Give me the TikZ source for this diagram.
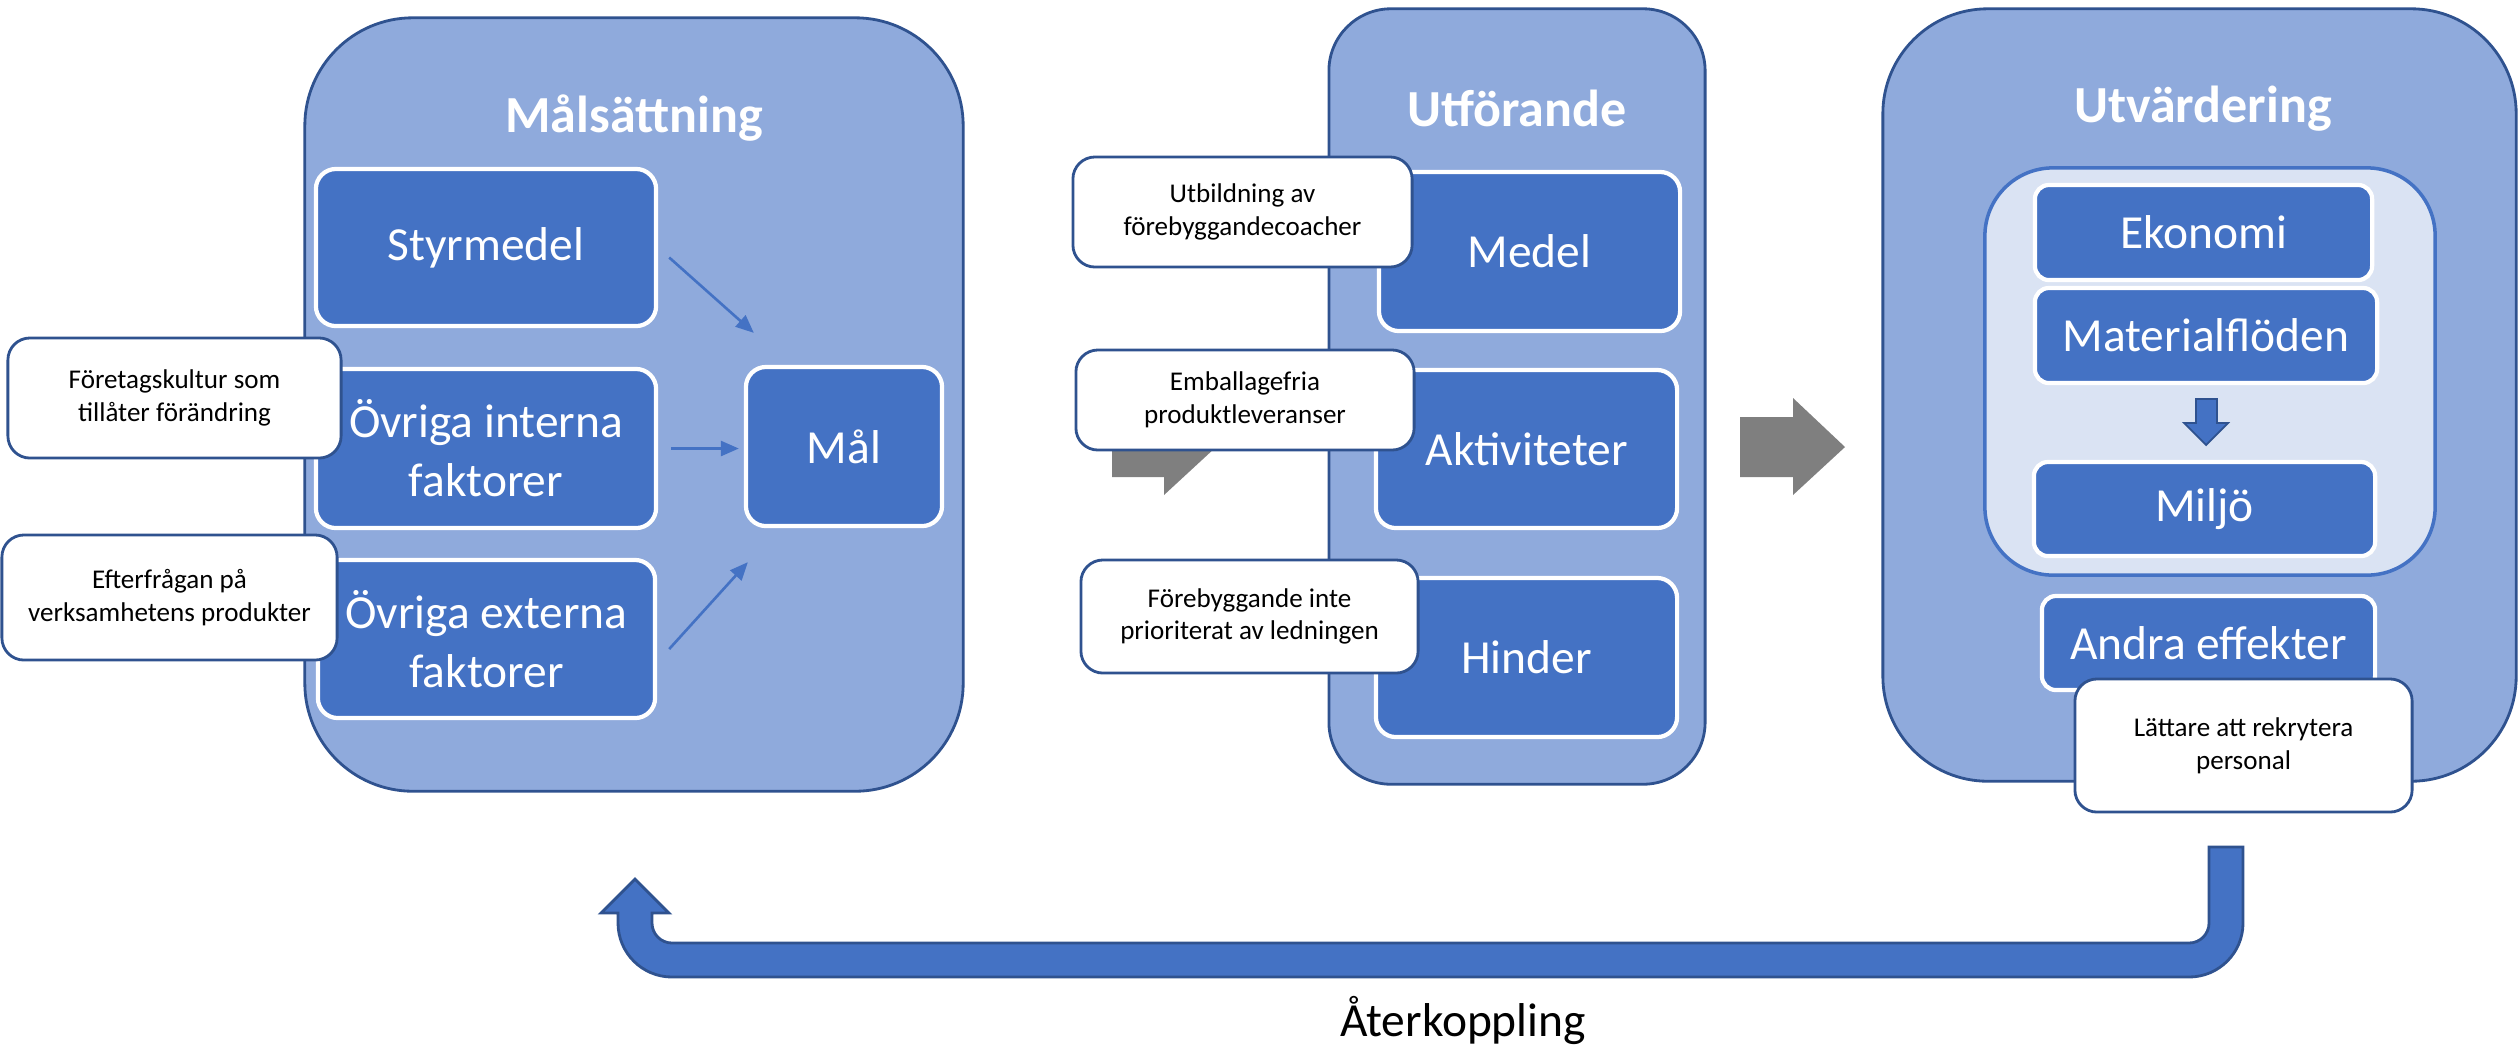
\documentclass[tikz,border=0pt]{standalone}
\usepackage{fontspec}
\setmainfont{Carlito}
\usepackage{tikz}
\usetikzlibrary{arrows.meta}

\definecolor{panelblue}{HTML}{8FAADC}
\definecolor{boxblue}{HTML}{4472C4}
\definecolor{edgeblue}{HTML}{2F528F}
\definecolor{paleblue}{HTML}{DAE3F3}
\definecolor{arrowgray}{HTML}{7F7F7F}

\newcommand{\boxfont}{\fontsize{13.5}{16.8}\selectfont}
\newcommand{\notefont}{\fontsize{7.7}{9.3}\selectfont}
\newcommand{\headfont}{\fontsize{14.8}{17}\selectfont\bfseries}

\begin{document}
\begin{tikzpicture}[x=0.01cm, y=-0.01cm,
		panel/.style={draw=edgeblue, fill=panelblue, line width=0.8pt},
		box/.style={draw=white, fill=boxblue, line width=1.2pt, rounded corners=0.2cm, text=white, font=\boxfont, align=center, inner sep=0pt},
		note/.style={draw=edgeblue, fill=white, line width=0.8pt, rounded corners=0.22cm, font=\notefont, align=center, inner sep=0pt},
		head/.style={text=white, font=\headfont},
		flow/.style={draw=boxblue, line width=0.75pt, -{Triangle[length=0.18cm, width=0.15cm]}}]
			\useasboundingbox (0,0) rectangle (2519,1047);
			% Maalsaettning
			\node[panel, rounded corners=1.08cm, minimum width=6.58cm, minimum height=7.73cm] (plan) at (634,404.5) {};
			\node[head] (planhead) at (634,118) {Målsättning};
			\node[box, minimum width=3.4cm, minimum height=1.57cm] (styr) at (486,247.5) {Styrmedel};
			\node[box, minimum width=3.4cm, minimum height=1.59cm] (intern) at (486,448.5) {Övriga interna\\faktorer};
			\node[box, minimum width=3.37cm, minimum height=1.58cm] (extern) at (486.5,639) {Övriga externa\\faktorer};
			\node[box, minimum width=1.96cm, minimum height=1.59cm] (mal) at (844,446.5) {Mål};
			\draw[flow] ([shift={(11,10)}]styr.east) -- ([shift={(10,-32)}]mal.north west);
			\draw[flow, shorten <=0.13cm, shorten >=0.05cm] (intern.east) -- (intern.east -| mal.west);
			\draw[flow] ([shift={(12,10)}]extern.east) -- ([shift={(4,34)}]mal.south west);
			\node[note, minimum width=3.33cm, minimum height=1.2cm] (kultur) at (174.5,398) {Företagskultur som\\tillåter förändring};
			\node[note, minimum width=3.35cm, minimum height=1.25cm] (efterfr) at (169.5,597.5) {Efterfrågan på\\verksamhetens produkter};
			% Utfoerande
			\node[panel, rounded corners=0.62cm, minimum width=3.76cm, minimum height=7.75cm] (exec) at (1517,396.5) {};
			\node[head] (exechead) at (1517,108) {Utförande};
			\node[box, minimum width=3.01cm, minimum height=1.59cm] (medel) at (1529.5,251.5) {Medel};
			\node[box, minimum width=3.01cm, minimum height=1.58cm] (aktiv) at (1526.5,449) {Aktiviteter};
			\node[box, minimum width=3.01cm, minimum height=1.59cm] (hinder) at (1526.5,657.5) {Hinder};
			\fill[arrowgray] (1112,417) -- (1164,417) -- (1164,398) -- (1216,447) -- (1164,495) -- (1164,477) -- (1112,477) -- cycle;
			\node[note, minimum width=3.39cm, minimum height=1.1cm] (utbild) at (1242.5,212) {Utbildning av\\förebyggandecoacher};
			\node[note, minimum width=3.38cm, minimum height=1.0cm] (emball) at (1245,400) {Emballagefria\\produktleveranser};
			\node[note, minimum width=3.37cm, minimum height=1.13cm] (prio) at (1249.5,616.5) {Förebyggande inte\\prioriterat av ledningen};
			\fill[arrowgray] (1740,417) -- (1793,417) -- (1793,398) -- (1845,447) -- (1793,495) -- (1793,477) -- (1740,477) -- cycle;
			% Utvaerdering
			\node[panel, rounded corners=1.05cm, minimum width=6.33cm, minimum height=7.72cm] (eval) at (2199.5,395) {};
			\node[head] (evalhead) at (2203,109) {Utvärdering};
			\node[draw=boxblue, fill=paleblue, line width=1pt, rounded corners=0.68cm, minimum width=4.5cm, minimum height=4.07cm] (effekt) at (2210,371.5) {};
			\node[box, rounded corners=0.14cm, minimum width=3.37cm, minimum height=0.95cm] (ekonomi) at (2203.5,232.5) {Ekonomi};
			\node[box, rounded corners=0.14cm, minimum width=3.42cm, minimum height=0.95cm] (material) at (2206,335.5) {Materialflöden};
			\filldraw[fill=boxblue, draw=edgeblue, line width=0.5pt] (2196,399) -- (2217,399) -- (2217,423) -- (2228,423) -- (2206,445) -- (2184,423) -- (2196,423) -- cycle;
			\node[box, rounded corners=0.14cm, minimum width=3.41cm, minimum height=0.94cm] (miljo) at (2204.5,509) {Miljö};
			\node[box, rounded corners=0.14cm, minimum width=3.33cm, minimum height=0.94cm] (andra) at (2208.5,643) {Andra effekter};
			\node[note, minimum width=3.37cm, minimum height=1.33cm] (rekryt) at (2243.5,745.5) {Lättare att rekrytera\\personal};
			% Aterkoppling
			\filldraw[fill=boxblue, draw=edgeblue, line width=0.8pt] (2243,847) -- (2243,923) arc[start angle=0, end angle=90, radius=54] -- (672,977) arc[start angle=90, end angle=180, radius=54] -- (618,913) -- (601,913) -- (635,879) -- (669,913) -- (652,913) -- (652,923) arc[start angle=180, end angle=90, radius=20] -- (2189,943) arc[start angle=90, end angle=0, radius=20] -- (2209,847) -- cycle;
			\node[font=\boxfont, anchor=base] (feedback) at (1463,1036) {Återkoppling};
		\end{tikzpicture}
\end{document}
